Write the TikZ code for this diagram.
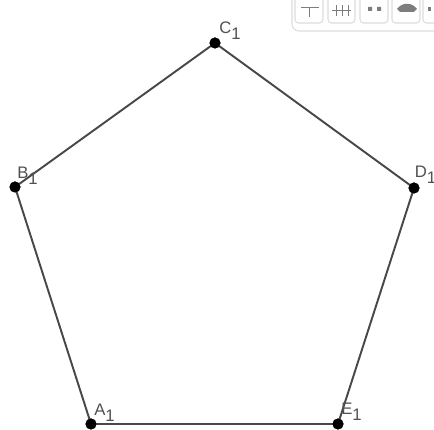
\documentclass[tikz,border=0pt]{standalone}
\usepackage{fontspec}
\setmainfont{Liberation Sans}
\definecolor{edgegray}{RGB}{72,72,72}
\definecolor{labelgray}{RGB}{80,80,80}
\definecolor{barline}{RGB}{220,220,220}
\definecolor{iconfill}{RGB}{125,125,125}
\usetikzlibrary{positioning}
\tikzset{
  vertex/.style={circle,fill=black,inner sep=0pt,minimum size=0.22cm},
  vlabel/.style={font=\fontsize{9.5}{10}\selectfont,text=labelgray,inner sep=0pt,anchor=south west},
  side/.style={draw=edgegray,line width=1.1pt},
  btn/.style={draw=barline,rounded corners=2pt,line width=0.6pt}
}

\begin{document}
\begin{tikzpicture}
  \useasboundingbox (0,0) rectangle (8.68,8.6);
  % toolbar (partly outside the view)
  \draw[btn,rounded corners=4pt] (5.84,9.0) rectangle (8.9,7.98);
  \draw[btn] (5.90,8.8) rectangle (6.46,8.14);
  \draw[btn] (6.56,8.8) rectangle (7.10,8.14);
  \draw[btn] (7.20,8.8) rectangle (7.76,8.14);
  \draw[btn] (7.84,8.8) rectangle (8.40,8.14);
  \draw[btn] (8.46,8.8) rectangle (9.0,8.14);
  \draw[iconfill,line width=0.5pt] (6.02,8.46) -- (6.38,8.46) (6.18,8.46) -- (6.18,8.26);
  \draw[iconfill,line width=0.5pt] (6.64,8.40) -- (7.02,8.40)
    (6.72,8.50) -- (6.72,8.28) (6.84,8.50) -- (6.84,8.28) (6.96,8.50) -- (6.96,8.28);
  \fill[iconfill] (7.36,8.46) rectangle (7.44,8.38) (7.54,8.46) rectangle (7.62,8.38);
  \fill[iconfill] (7.94,8.42) .. controls (8.04,8.56) and (8.24,8.56) .. (8.34,8.42) -- (8.28,8.36) -- (8.00,8.36) -- cycle;
  \fill[iconfill] (8.56,8.46) rectangle (8.62,8.38);

  % pentagon
  \node[vertex] (A1) at (1.82,0.12) {};
  \node[vertex] (B1) at (0.30,4.86) {};
  \node[vertex] (C1) at (4.30,7.74) {};
  \node[vertex] (D1) at (8.28,4.84) {};
  \node[vertex] (E1) at (6.76,0.12) {};
  \draw[side] (A1.center) -- (B1.center) -- (C1.center) -- (D1.center) -- (E1.center) -- cycle;
  \foreach \p in {A1,B1,C1,D1,E1}
    \node[vertex] at (\p) {};

  \node[vlabel] (lA) at (1.88,0.16) {A$_{\textrm{1}}$};
  \node[vlabel] (lB) at (0.34,4.90) {B$_{\textrm{1}}$};
  \node[vlabel] (lC) at (4.38,7.80) {C$_{\textrm{1}}$};
  \node[vlabel] (lD) at (8.29,4.92) {D$_{\textrm{1}}$};
  \node[vlabel] (lE) at (6.82,0.18) {E$_{\textrm{1}}$};
\end{tikzpicture}
\end{document}
